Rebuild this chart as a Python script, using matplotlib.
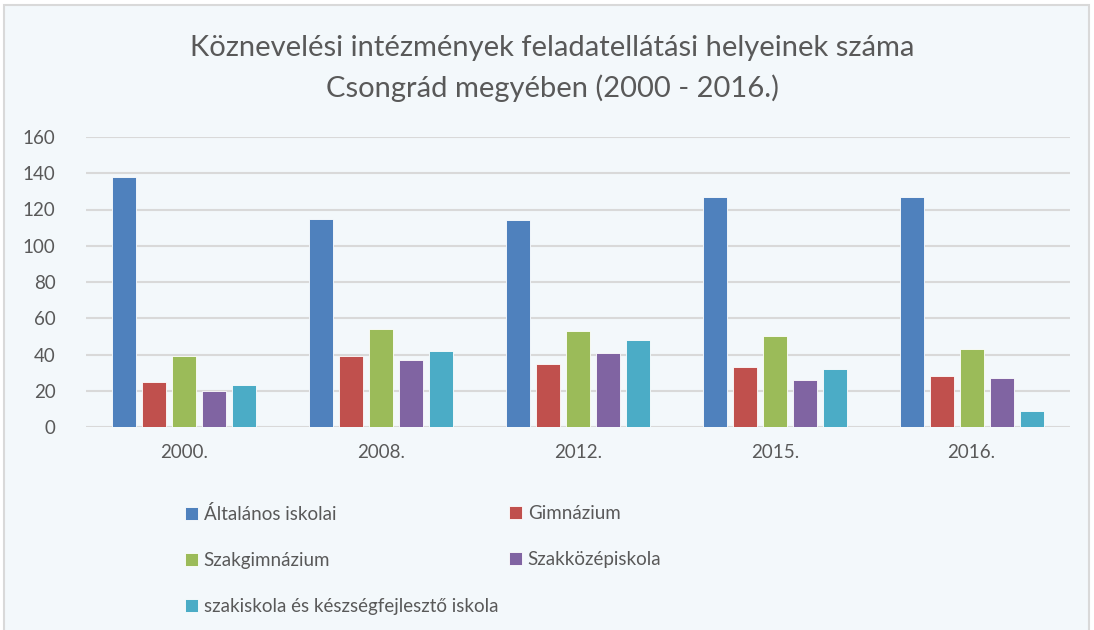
import matplotlib.pyplot as plt
import numpy as np
from matplotlib.patches import Rectangle

years = ['2000.', '2008.', '2012.', '2015.', '2016.']
series = [
    'Általános iskolai',
    'Gimnázium',
    'Szakgimnázium',
    'Szakközépiskola',
    'szakiskola és készségfejlesztő iskola',
]
altalanos = [138, 115, 114, 127, 127]
gimnazium = [25, 39, 35, 33, 28]
szakgimn = [39, 54, 53, 50, 43]
szakkozep = [20, 37, 41, 26, 27]
szakiskola = [23, 42, 48, 32, 9]
colors = ['#4F81BD', '#C0504D', '#9BBB59', '#8064A2', '#4BACC6']

plt.rcParams['font.family'] = ['Lato', 'DejaVu Sans']
W, H = 1094, 630
bg = '#F3F8FB'
txt = '#595959'

fig = plt.figure(figsize=(W / 100, H / 100), dpi=100)
fig.patch.set_facecolor('white')
# chart area frame
fig.patches.append(Rectangle((4 / W, -0.01), (1089 - 4) / W, (H - 5) / H + 0.01,
                             transform=fig.transFigure, facecolor=bg,
                             edgecolor='#D9D9D9', linewidth=1.5, zorder=-5))

ax = fig.add_axes([86 / W, (H - 427) / H, (1070 - 86) / W, (427 - 137) / H])
ax.set_facecolor('none')

x = np.arange(len(years))
data = [altalanos, gimnazium, szakgimn, szakkozep, szakiskola]
step = 30 / 196.8
bw = 24 / 196.8
bars = []
for i, vals in enumerate(data):
    b = ax.bar(x + (i - 2) * step, vals, bw, color=colors[i],
               edgecolor='white', linewidth=0.6, zorder=3, label=series[i])
    bars.append(b)

ax.set_xlim(-0.5, len(years) - 0.5)
ax.set_ylim(0, 160)
ax.set_yticks(range(0, 161, 20))
ax.set_xticks(x)
ax.set_xticklabels(years)
ax.grid(axis='y', color='#D9D9D9', linewidth=1.5, zorder=0)
for s in ax.spines.values():
    s.set_visible(False)
ax.tick_params(length=0, colors=txt, labelsize=13.5)
ax.tick_params(axis='y', pad=22)
ax.tick_params(axis='x', pad=12)

fig.text(552 / W, 1 - 48 / H, 'Köznevelési intézmények feladatellátási helyeinek száma',
         ha='center', va='center', fontsize=21, color=txt)
fig.text(552 / W, 1 - 88 / H, 'Csongrád megyében (2000 - 2016.)',
         ha='center', va='center', fontsize=21, color=txt)

leg_kw = dict(frameon=False, fontsize=13.5, labelcolor=txt, handlelength=0.7,
              handleheight=0.7, handletextpad=0.3, labelspacing=1.55,
              loc='upper left', borderaxespad=0, borderpad=0)
fig.legend([bars[0], bars[2], bars[4]], [series[0], series[2], series[4]],
           bbox_to_anchor=(185 / W, 1 - 505 / H), **leg_kw)
fig.legend([bars[1], bars[3]], [series[1], series[3]],
           bbox_to_anchor=(509 / W, 1 - 505 / H), **leg_kw)

fig.savefig('out.png', dpi=100, facecolor=fig.get_facecolor())
